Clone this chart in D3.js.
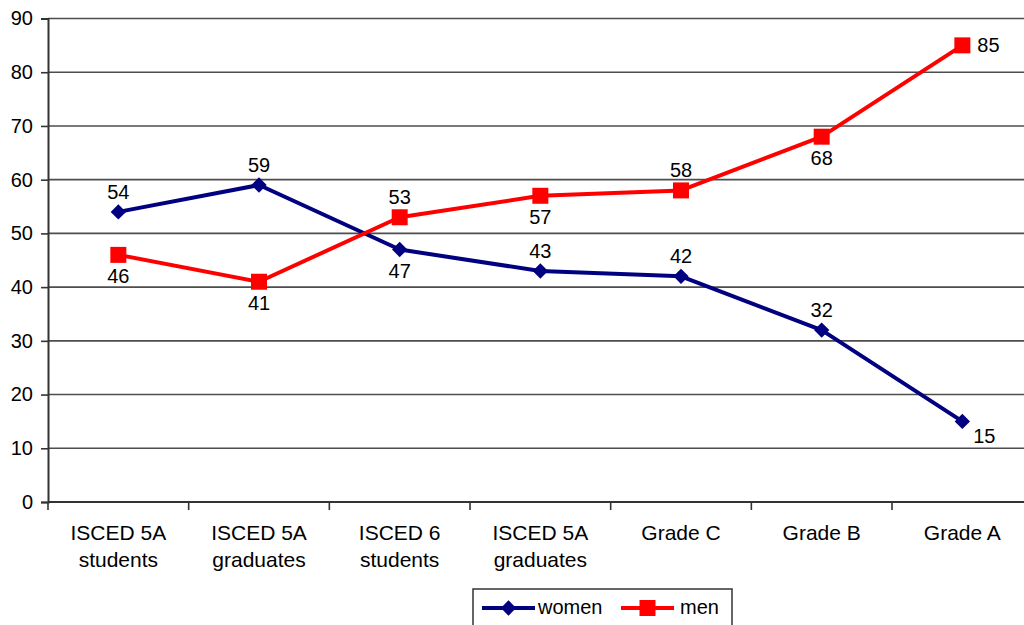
<!DOCTYPE html>
<html>
<head>
<meta charset="utf-8">
<script src="https://cdn.jsdelivr.net/npm/d3@7"></script>
<style>
  html, body { margin: 0; padding: 0; background: #fff; }
  svg { display: block; font-family: "Liberation Sans", Arial, sans-serif; }
</style>
</head>
<body>
<svg id="chart" width="1024" height="625"></svg>
<script>
// Categories (two-line labels)
const categories = [
  ["ISCED 5A", "students"],
  ["ISCED 5A", "graduates"],
  ["ISCED 6", "students"],
  ["ISCED 5A", "graduates"],
  ["Grade C"],
  ["Grade B"],
  ["Grade A"]
];
const women = [54, 59, 47, 43, 42, 32, 15];
const men   = [46, 41, 53, 57, 58, 68, 85];
// Label placement per point: "above", "below", "right", "belowright"
const womenLabelPos = ["above", "above", "below", "above", "above", "above", "belowright"];
const menLabelPos   = ["below", "below", "above", "below", "above", "below", "right"];
const yTicks = [0, 10, 20, 30, 40, 50, 60, 70, 80, 90];

const FONT = 20;
const CAT_FONT = 21;
const svg = d3.select("#chart");
const plotLeft = 48, plotTop = 18.5, plotBottom = 502, bandW = 140.67;
const plotRight = plotLeft + bandW * categories.length;

const x = d3.scaleBand().domain(d3.range(categories.length)).range([plotLeft, plotRight]).padding(0);
const y = d3.scaleLinear().domain([0, 90]).range([plotBottom, plotTop]);

// Gridlines
svg.append("g").selectAll("line").data(yTicks.filter(d => d > 0)).join("line")
  .attr("x1", plotLeft).attr("x2", plotRight)
  .attr("y1", d => y(d)).attr("y2", d => y(d))
  .attr("stroke", "#4d4d4d").attr("stroke-width", 1.6);

// Y axis
const yAxis = svg.append("g").attr("transform", `translate(${plotLeft},0)`)
  .call(d3.axisLeft(y).tickValues(yTicks).tickSize(7).tickPadding(8));
yAxis.select(".domain").attr("stroke", "#333").attr("stroke-width", 2);
yAxis.selectAll(".tick line").attr("stroke", "#333").attr("stroke-width", 1.6);
yAxis.selectAll(".tick text").attr("font-size", FONT).attr("fill", "#000")
  .attr("font-family", "Liberation Sans, Arial, sans-serif");

// X axis
const xAxis = svg.append("g").attr("transform", `translate(0,${plotBottom})`);
xAxis.append("line").attr("x1", plotLeft).attr("x2", plotRight).attr("y1", 0).attr("y2", 0)
  .attr("stroke", "#333").attr("stroke-width", 2);
xAxis.selectAll("line.tk").data(d3.range(categories.length + 1)).join("line")
  .attr("class", "tk")
  .attr("x1", i => plotLeft + i * x.bandwidth()).attr("x2", i => plotLeft + i * x.bandwidth())
  .attr("y1", 0).attr("y2", 8).attr("stroke", "#333").attr("stroke-width", 1.6);
const xl = xAxis.selectAll("text").data(categories).join("text")
  .attr("x", (d, i) => x(i) + x.bandwidth() / 2)
  .attr("y", 38)
  .attr("text-anchor", "middle").attr("font-size", CAT_FONT).attr("fill", "#000");
xl.selectAll("tspan").data(d => d).join("tspan")
  .attr("x", function() { return d3.select(this.parentNode).attr("x"); })
  .attr("dy", (d, i) => i === 0 ? 0 : 27)
  .text(d => d);

const cx = i => x(i) + x.bandwidth() / 2;
const line = d3.line().x((d, i) => cx(i)).y(d => y(d));

function markerPath(shape) {
  return shape === "diamond"
    ? d3.symbol().type(d3.symbolDiamond2).size(150)()
    : d3.symbol().type(d3.symbolSquare).size(256)();
}

function drawSeries(values, color, shape, positions) {
  svg.append("path").datum(values)
    .attr("d", line).attr("fill", "none")
    .attr("stroke", color).attr("stroke-width", 4).attr("stroke-linejoin", "round");
  const sym = markerPath(shape);
  svg.append("g").selectAll("path").data(values).join("path")
    .attr("transform", (d, i) => `translate(${cx(i)},${y(d)})`)
    .attr("d", sym).attr("fill", color);
  svg.append("g").selectAll("text").data(values).join("text")
    .attr("x", (d, i) => {
      const p = positions[i];
      if (p === "right") return cx(i) + 15;
      if (p === "belowright") return cx(i) + 22;
      return cx(i);
    })
    .attr("y", (d, i) => {
      const p = positions[i];
      if (p === "above") return y(d) - 13;
      if (p === "below") return y(d) + 28;
      if (p === "right") return y(d) + 7;
      return y(d) + 22;
    })
    .attr("text-anchor", (d, i) => positions[i] === "right" ? "start" : "middle")
    .attr("font-size", FONT).attr("fill", "#000")
    .text(d => d);
}

drawSeries(women, "#000080", "diamond", womenLabelPos);
drawSeries(men, "#ff0000", "square", menLabelPos);

// Legend
const lg = svg.append("g").attr("transform", "translate(473,589)");
lg.append("rect").attr("x", 0).attr("y", 0).attr("width", 259).attr("height", 40)
  .attr("fill", "#fff").attr("stroke", "#333").attr("stroke-width", 1.5);
const legendItems = [
  { name: "women", color: "#000080", shape: "diamond", x0: 9, tx: 65 },
  { name: "men", color: "#ff0000", shape: "square", x0: 148, tx: 207 }
];
legendItems.forEach(it => {
  lg.append("line").attr("x1", it.x0).attr("x2", it.x0 + 53).attr("y1", 19).attr("y2", 19)
    .attr("stroke", it.color).attr("stroke-width", 4);
  lg.append("path").attr("transform", `translate(${it.x0 + 26.5},19)`)
    .attr("d", markerPath(it.shape)).attr("fill", it.color);
  lg.append("text").attr("x", it.tx).attr("y", 25).attr("font-size", FONT).attr("fill", "#000").text(it.name);
});
</script>
</body>
</html>
